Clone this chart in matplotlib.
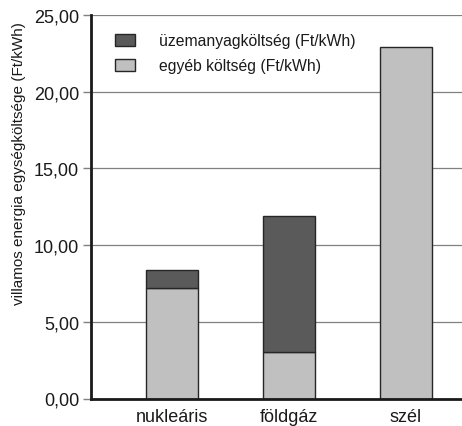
import matplotlib.pyplot as plt
from matplotlib.ticker import FuncFormatter

plt.rcParams['font.family'] = ['Liberation Sans', 'DejaVu Sans']
plt.rcParams['text.color'] = '#1a1a1a'
plt.rcParams['xtick.labelcolor'] = '#1a1a1a'
plt.rcParams['ytick.labelcolor'] = '#1a1a1a'

categories = ['nukleáris', 'földgáz', 'szél']
egyeb = [7.2, 3.0, 22.9]        # egyéb költség (Ft/kWh)
uzemanyag = [1.15, 8.9, 0.0]    # üzemanyagköltség (Ft/kWh)
yticks = [0, 5, 10, 15, 20, 25]

light = '#c0c0c0'
dark = '#5a5a5a'
edge = '#262626'

fig = plt.figure(figsize=(4.62, 4.27), dpi=100)
ax = fig.add_axes([91 / 462, 27.5 / 427, 1 - 91 / 462, (399.5 - 16) / 427])

x = list(range(len(categories)))
b1 = ax.bar(x, egyeb, width=0.44, color=light, edgecolor=edge, linewidth=1.0,
            label='egyéb költség (Ft/kWh)', zorder=3)
b2 = ax.bar(x, uzemanyag, width=0.44, bottom=egyeb, color=dark, edgecolor=edge,
            linewidth=1.0, label='üzemanyagköltség (Ft/kWh)', zorder=3)
# no dark cap on the wind bar
b2[2].set_visible(False)

ax.set_xlim(-0.69, 2.48)
ax.set_ylim(0, 25)
ax.set_yticks(yticks)
ax.yaxis.set_major_formatter(FuncFormatter(lambda v, p: f'{v:.2f}'.replace('.', ',')))
ax.set_xticks(x)
ax.set_xticklabels(categories, fontsize=13)
ax.tick_params(axis='x', length=0, pad=7)
ax.tick_params(axis='y', length=5.5, width=1, color='#808080', labelsize=13, pad=3)

ax.grid(axis='y', color='#808080', linewidth=0.9, zorder=0)
ax.set_axisbelow(True)
for s in ['top', 'right']:
    ax.spines[s].set_visible(False)
for s in ['left', 'bottom']:
    ax.spines[s].set_linewidth(2)
    ax.spines[s].set_color('#1a1a1a')
    ax.spines[s].set_zorder(4)

fig.text(19 / 462, 1 - 164 / 427, 'villamos energia egységköltsége (Ft/kWh)',
         rotation=90, ha='center', va='center', fontsize=11)

ax.legend([b2[0], b1[0]], ['üzemanyagköltség (Ft/kWh)', 'egyéb költség (Ft/kWh)'],
          loc='upper left', bbox_to_anchor=(115 / 462, 1 - 34 / 427),
          bbox_transform=fig.transFigure, frameon=False, fontsize=11.3,
          handlelength=1.3, handleheight=0.8, handletextpad=1.5,
          labelspacing=0.65, borderpad=0, borderaxespad=0)

plt.savefig('out.png')
